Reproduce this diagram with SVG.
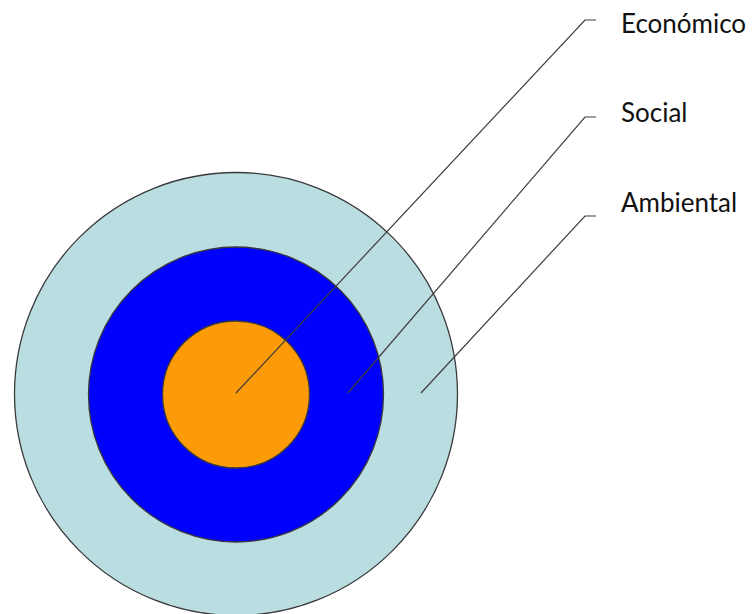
<svg xmlns="http://www.w3.org/2000/svg" width="752" height="614" viewBox="0 0 752 614">
<style>
.ring{stroke:#3a3a3a;stroke-width:1.3}
.lead{fill:none;stroke:#3c3c3c;stroke-width:1.2}
.lbl{font-family:Lato,"Open Sans","Liberation Sans",sans-serif;font-size:26px;fill:#111}
</style>
<rect width="752" height="614" fill="#fff"/>
<g id="ambiental-ring"><circle class="ring" cx="236" cy="394" r="221.5" fill="#badde1"/></g>
<g id="social-ring"><circle class="ring" cx="236" cy="394.5" r="147.5" fill="#0000fd"/></g>
<g id="economico-core"><circle class="ring" cx="236" cy="394.5" r="73.5" fill="#fd9a08"/></g>
<g id="connectors">
<polyline class="lead" points="236,393 585,20 596,20"/>
<polyline class="lead" points="348,393 585,117 596,117"/>
<polyline class="lead" points="421,393 585,216 596,216"/>
</g>
<g id="label-economico"><text class="lbl" x="621" y="33">Económico</text></g>
<g id="label-social"><text class="lbl" x="621" y="122">Social</text></g>
<g id="label-ambiental"><text class="lbl" x="621" y="212">Ambiental</text></g>
</svg>
